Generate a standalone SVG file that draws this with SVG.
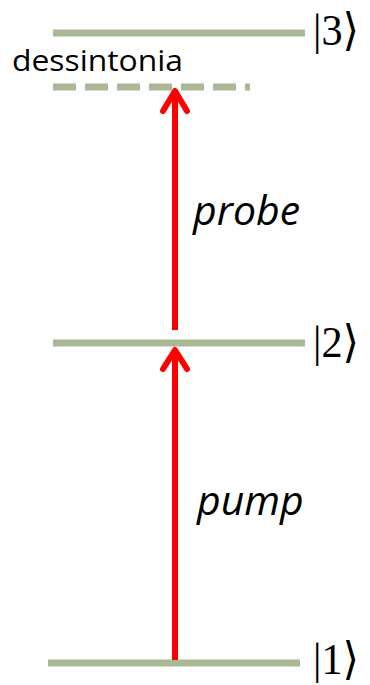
<svg xmlns="http://www.w3.org/2000/svg" width="370" height="685" viewBox="0 0 370 685">
<style>
.lvl{stroke:#a9b994;stroke-width:7;fill:none}
.arr{stroke:#ff0000;stroke-width:6;fill:none;stroke-linecap:round;stroke-linejoin:round}
.ket{font-family:"Liberation Serif","DejaVu Serif",serif;font-size:45px;fill:#000}
.lab{font-family:"Open Sans","Liberation Sans",sans-serif;font-style:italic;font-size:41px;fill:#000}
.txt{font-family:"Open Sans","Liberation Sans",sans-serif;font-size:30px;fill:#000}
</style>
<rect width="370" height="685" fill="#fff"/>
<g id="level3">
<line class="lvl" x1="53" y1="33" x2="305" y2="33"/>
<text class="ket" x="313" y="45" textLength="46" lengthAdjust="spacingAndGlyphs">|3⟩</text>
</g>
<g id="detuning">
<line class="lvl" x1="53" y1="87" x2="250" y2="87" stroke-dasharray="23 9"/>
<text class="txt" x="12" y="71" textLength="171" lengthAdjust="spacingAndGlyphs">dessintonia</text>
</g>
<g id="level2">
<line class="lvl" x1="53" y1="343" x2="305" y2="343"/>
<text class="ket" x="313" y="357" textLength="46" lengthAdjust="spacingAndGlyphs">|2⟩</text>
</g>
<g id="level1">
<line class="lvl" x1="48" y1="663" x2="300" y2="663"/>
<text class="ket" x="313" y="674" textLength="46" lengthAdjust="spacingAndGlyphs">|1⟩</text>
</g>
<g id="connectors">
<line x1="175" y1="330" x2="175" y2="92" stroke="#ff0000" stroke-width="6"/>
<polyline class="arr" points="163,111 175,91 187,111"/>
<line x1="175" y1="660" x2="175" y2="352" stroke="#ff0000" stroke-width="6"/>
<polyline class="arr" points="163,369 175,350 187,369"/>
</g>
<g id="labels">
<text class="lab" x="193" y="225">probe</text>
<text class="lab" x="197" y="515">pump</text>
</g>
</svg>
